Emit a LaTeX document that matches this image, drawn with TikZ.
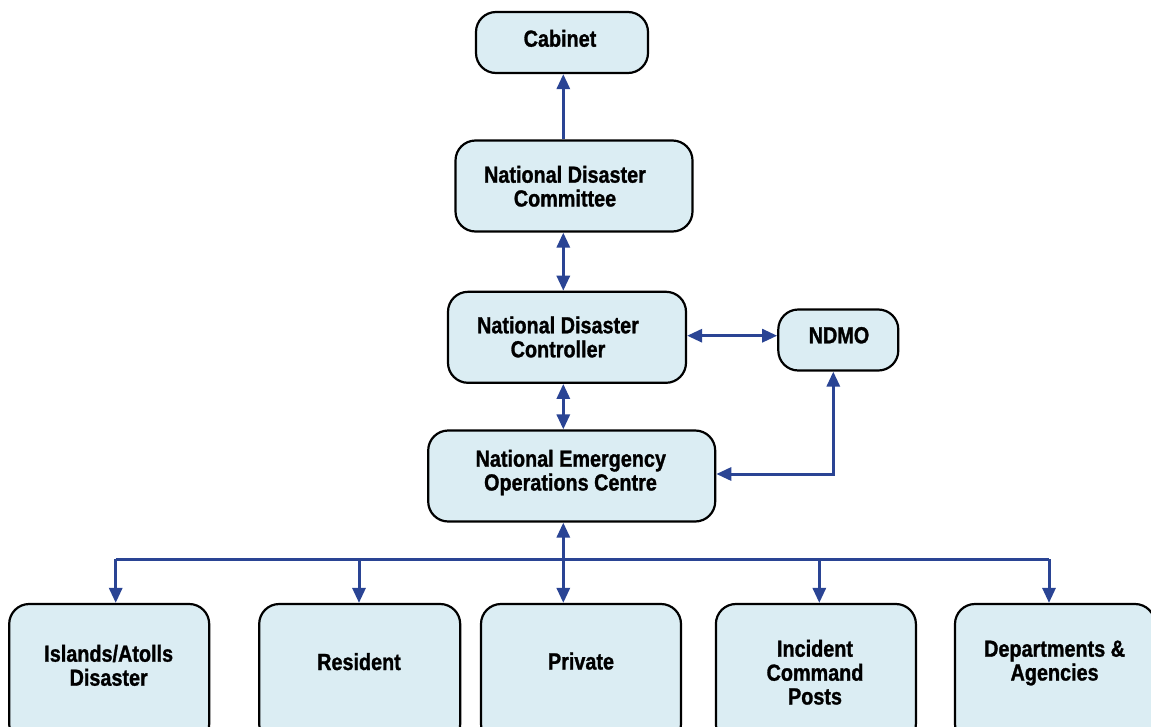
\documentclass[tikz,border=0pt]{standalone}
\usepackage{fontspec}
\setmainfont{Liberation Sans}[FakeStretch=0.85, BoldFeatures={FakeBold=1.2}]
\usetikzlibrary{arrows.meta}
\definecolor{lineblue}{HTML}{2A4494}
\definecolor{boxfill}{HTML}{DBEDF3}
\begin{document}
\begin{tikzpicture}[x=1pt,y=-1pt,
  box/.style={draw=black, line width=2.2pt, fill=boxfill, rectangle, rounded corners=20pt, inner sep=0pt},
  txt/.style={inner sep=0pt, anchor=base, text=black, font=\fontsize{23.3}{24}\selectfont\bfseries},
  conn/.style={draw=lineblue, line width=3pt},
  tip/.style={conn, -{Triangle[length=15pt,width=13pt]}},
  both/.style={conn, {Triangle[length=15pt,width=13pt]}-{Triangle[length=15pt,width=13pt]}}
]
\useasboundingbox (0,0) rectangle (1151,726);
\clip (0,0) rectangle (1151,726);

% boxes
\node[box, minimum width=172pt, minimum height=61pt] (cab) at (562,42.5) {};
\node[box, minimum width=237pt, minimum height=91pt] (com) at (574,186) {};
\node[box, minimum width=238pt, minimum height=91pt] (ctl) at (567,337.3) {};
\node[box, minimum width=120pt, minimum height=61pt] (ndmo) at (838.3,340) {};
\node[box, minimum width=287pt, minimum height=91pt] (neoc) at (571.7,476) {};
\node[box, minimum width=200pt, minimum height=140pt] (isl) at (109.2,674) {};
\node[box, minimum width=201pt, minimum height=140pt] (res) at (359.7,674) {};
\node[box, minimum width=200pt, minimum height=140pt] (pri) at (581,674) {};
\node[box, minimum width=200pt, minimum height=140pt] (inc) at (815.9,674) {};
\node[box, minimum width=200pt, minimum height=140pt] (dep) at (1055,674) {};

% texts
\node[txt] (tcab) at (560,46.7) {Cabinet};
\node[txt] (tcom1) at (565,182.7) {National Disaster};
\node[txt] (tcom2) at (565,206.5) {Committee};
\node[txt] (tctl1) at (558,333.3) {National Disaster};
\node[txt] (tctl2) at (558,357.3) {Controller};
\node[txt] (tndmo) at (839,343.3) {NDMO};
\node[txt] (tneo1) at (570.8,466.7) {National Emergency};
\node[txt] (tneo2) at (570.5,490.5) {Operations Centre};
\node[txt] (tisl1) at (108.7,661.7) {Islands/Atolls};
\node[txt] (tisl2) at (108.7,685.7) {Disaster};
\node[txt] (tres) at (359,670) {Resident};
\node[txt] (tpri) at (581,669.5) {Private};
\node[txt] (tinc1) at (815,656.7) {Incident};
\node[txt] (tinc2) at (815,680.7) {Command};
\node[txt] (tinc3) at (815,704.5) {Posts};
\node[txt] (tdep1) at (1054.6,656.7) {Departments \&};
\node[txt] (tdep2) at (1054.6,680.5) {Agencies};

% helper coordinates
\coordinate (vx) at (563.3,0);
\coordinate (hy) at (0,335.7);
\coordinate (nx) at (833.3,474);
\coordinate (b1) at (115.7,559.3);
\coordinate (b2) at (359,559.3);
\coordinate (b4) at (819.3,559.3);
\coordinate (b5) at (1049,559.3);

% connectors
\draw[tip] (com.north -| vx) -- (cab.south -| vx);
\draw[both] (com.south -| vx) -- (ctl.north -| vx);
\draw[both] (ctl.south -| vx) -- (neoc.north -| vx);
\draw[both] (ctl.east |- hy) -- (ndmo.west |- hy);
\draw[both] (ndmo.south -| nx) -- (nx) -- (neoc.east |- nx);
\draw[both] (neoc.south -| vx) -- (pri.north -| vx);
\draw[conn] (b1) -- (b5);
\draw[tip] (b1) -- (isl.north -| b1);
\draw[tip] (b2) -- (res.north -| b2);
\draw[tip] (b4) -- (inc.north -| b4);
\draw[tip] (b5) -- (dep.north -| b5);
\end{tikzpicture}
\end{document}
